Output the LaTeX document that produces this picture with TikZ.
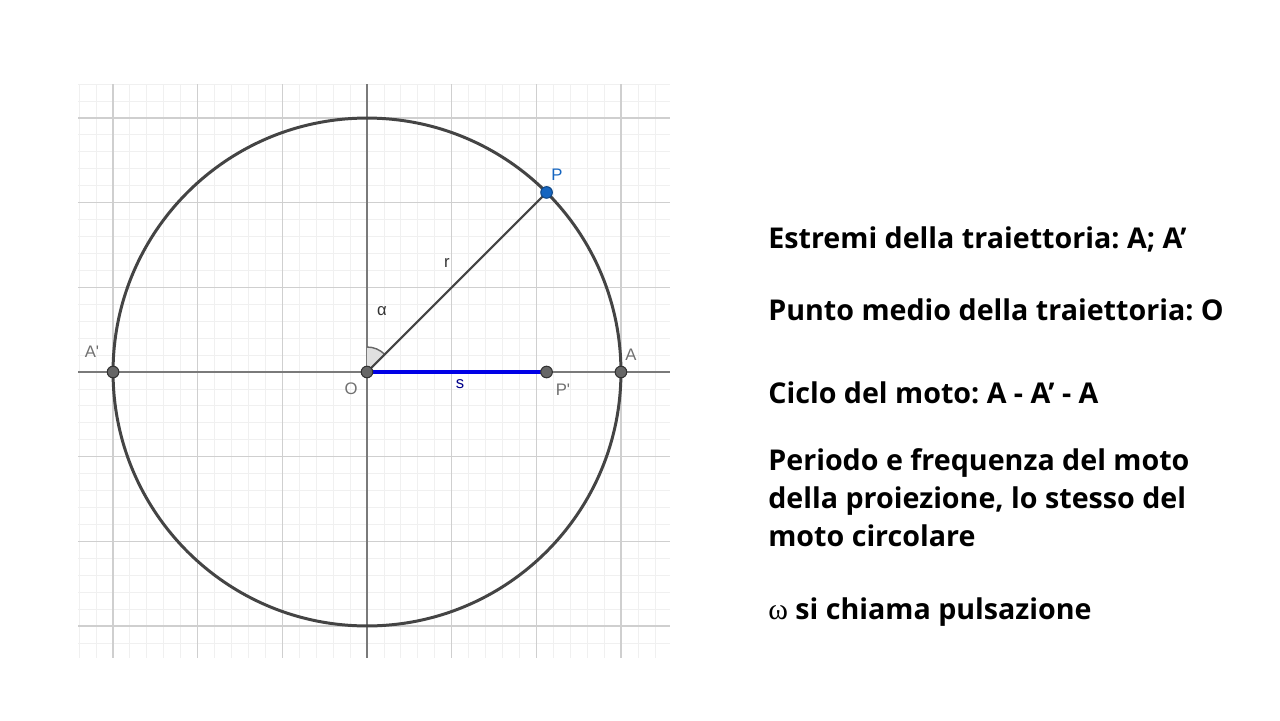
\documentclass[tikz,border=0pt]{standalone}
\usepackage{fontspec}
\setmainfont{Open Sans}
\newfontfamily\lblfont{Liberation Sans}
\newfontfamily\omegafont{Liberation Serif}
\frenchspacing
\definecolor{minorgrid}{HTML}{F0F0F0}
\definecolor{majorgrid}{HTML}{CFCFCF}
\definecolor{axisgray}{HTML}{7A7A7A}
\definecolor{circgray}{HTML}{444444}
\definecolor{ptblue}{HTML}{1565C0}
\definecolor{segblue}{HTML}{0000E6}
\definecolor{lblgray}{HTML}{707070}
\tikzset{
  dot/.style={circle, fill=black!60, draw=black!80, line width=0.6pt, minimum size=6.6pt, inner sep=0pt},
  bluedot/.style={dot, fill=ptblue, draw=ptblue!70!black},
  lbl/.style={font=\lblfont\fontsize{9.5}{11}\selectfont, inner sep=0pt},
  item/.style={anchor=base west, inner sep=0pt, font=\bfseries\fontsize{16.3}{19}\selectfont}
}
\begin{document}
\begin{tikzpicture}[x=0.02cm, y=-0.02cm]
  \useasboundingbox (0,0) rectangle (1280,720);
  \fill[white] (0,0) rectangle (1280,720);
  % grid
  \begin{scope}
    \clip (78,84) rectangle (670,658);
    \foreach \k in {-18,...,18} {
      \draw[minorgrid, line width=0.5pt] (367+\k*16.94,84) -- (367+\k*16.94,658);
      \draw[minorgrid, line width=0.5pt] (78,372+\k*16.94) -- (670,372+\k*16.94);
    }
    \foreach \k in {-4,...,4} {
      \draw[majorgrid, line width=0.7pt] (367+\k*84.7,84) -- (367+\k*84.7,658);
      \draw[majorgrid, line width=0.7pt] (78,372+\k*84.7) -- (670,372+\k*84.7);
    }
  \end{scope}
  \draw[axisgray, line width=0.8pt] (78,372) -- (670,372);
  \draw[axisgray, line width=0.8pt] (367,84) -- (367,658);
  % points
  \coordinate (O) at (367,372);
  \path (O) ++(45:5.08cm) coordinate (P);
  \path (O) ++(0:5.08cm) coordinate (A);
  \path (O) ++(180:5.08cm) coordinate (Ap);
  \coordinate (Pp) at (P |- O);
  % circle and angle
  \draw[circgray, line width=1.7pt] (O) circle (5.08cm);
  \fill[black!12] (O) -- ++(45:0.5cm) arc (45:90:0.5cm) -- cycle;
  \draw[black!60, line width=0.8pt] (O) ++(45:0.5cm) arc (45:90:0.5cm);
  \draw[circgray, line width=1.2pt] (O) -- (P);
  \draw[segblue, line width=2.6pt] (O) -- (Pp);
  \node[dot] (On) at (O) {};
  \node[dot] (Ppn) at (Pp) {};
  \node[dot] (An) at (A) {};
  \node[dot] (Apn) at (Ap) {};
  \node[bluedot] (Pn) at (P) {};
  % labels
  \node[lbl, text=ptblue] at (557,175) {P};
  \node[lbl, text=lblgray] at (563,390) {P'};
  \node[lbl, text=lblgray] at (631,355) {A};
  \node[lbl, text=lblgray] at (92,352) {A'};
  \node[lbl, text=lblgray] at (351,389) {O};
  \node[lbl, text=segblue!60!black] at (460,384) {s};
  \node[lbl, text=black!80] at (447,263) {r};
  \node[lbl, text=black!80] at (382,311) {α};
  % text
  \node[item] (t1) at (768,248) {Estremi della traiettoria: A; A’};
  \node[item] (t2) at (768,320) {Punto medio della traiettoria: O};
  \node[item] (t3) at (768,403) {Ciclo del moto: A - A’ - A};
  \node[item] (t4) at (768,470) {Periodo e frequenza del moto};
  \node[item] (t5) at (768,508) {della proiezione, lo stesso del};
  \node[item] (t6) at (768,546) {moto circolare};
  \node[item] (t7) at (768,619) {{\omegafont\mdseries\fontsize{17}{19}\selectfont ω} si chiama pulsazione};
\end{tikzpicture}
\end{document}
